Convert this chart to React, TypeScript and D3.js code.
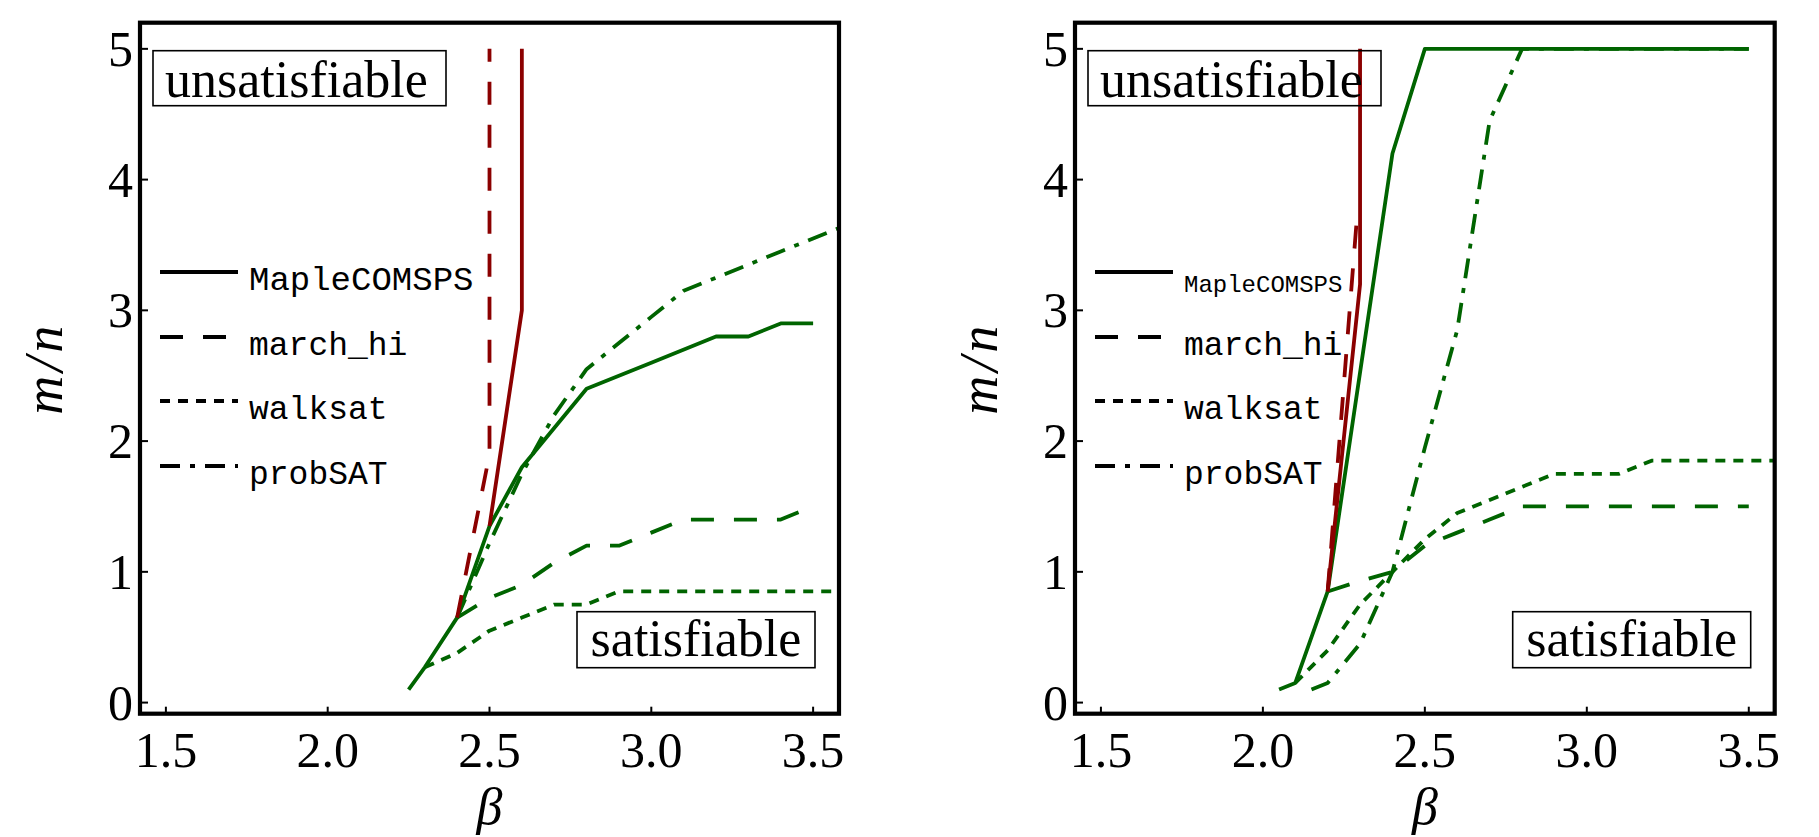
import React from "react";
import * as d3 from "d3";

// ---- data (beta on x, m/n on y) ----
const xTicks = [1.5, 2.0, 2.5, 3.0, 3.5];
const xTickLabels = ["1.5", "2.0", "2.5", "3.0", "3.5"];
const yTicks = [0, 1, 2, 3, 4, 5];
const yTickLabels = ["0", "1", "2", "3", "4", "5"];

const legendNames = ["MapleCOMSPS", "march_hi", "walksat", "probSAT"];

// left panel
const lMapleSatB = [2.25, 2.3, 2.4, 2.5, 2.6, 2.8, 3.0, 3.2, 3.3, 3.4, 3.5];
const lMapleSatR = [0.1, 0.27, 0.65, 1.35, 1.8, 2.4, 2.6, 2.8, 2.8, 2.9, 2.9];
const lMapleUnsatB = [2.5, 2.6, 2.6];
const lMapleUnsatR = [1.35, 3.0, 5.0];
const lMarchSatB = [2.4, 2.5, 2.6, 2.7, 2.8, 2.9, 3.0, 3.1, 3.2, 3.3, 3.4, 3.5];
const lMarchSatR = [0.65, 0.8, 0.9, 1.07, 1.2, 1.2, 1.3, 1.4, 1.4, 1.4, 1.4, 1.5];
const lMarchUnsatB = [2.4, 2.5, 2.5];
const lMarchUnsatR = [0.65, 1.9, 5.0];
const lWalkSatB = [2.3, 2.4, 2.5, 2.6, 2.7, 2.8, 2.9, 3.0, 3.1, 3.2, 3.3, 3.4, 3.5, 3.6];
const lWalkSatR = [0.27, 0.38, 0.55, 0.65, 0.75, 0.75, 0.85, 0.85, 0.85, 0.85, 0.85, 0.85, 0.85, 0.85];
const lProbSatB = [2.4, 2.5, 2.6, 2.7, 2.8, 2.9, 3.0, 3.1, 3.2, 3.3, 3.4, 3.5, 3.6];
const lProbSatR = [0.65, 1.22, 1.75, 2.2, 2.55, 2.75, 2.95, 3.15, 3.25, 3.35, 3.45, 3.55, 3.65];

// right panel
const rMapleSatB = [2.05, 2.1, 2.2, 2.4, 2.5, 2.6, 2.8, 3.0, 3.2, 3.4, 3.5];
const rMapleSatR = [0.1, 0.15, 0.85, 4.2, 5.0, 5.0, 5.0, 5.0, 5.0, 5.0, 5.0];
const rMapleUnsatB = [2.2, 2.3, 2.3];
const rMapleUnsatR = [0.85, 3.2, 5.0];
const rMarchSatB = [2.2, 2.3, 2.4, 2.5, 2.6, 2.7, 2.8, 2.9, 3.0, 3.1, 3.2, 3.3, 3.4, 3.5];
const rMarchSatR = [0.85, 0.93, 1.0, 1.2, 1.3, 1.4, 1.5, 1.5, 1.5, 1.5, 1.5, 1.5, 1.5, 1.5];
const rMarchUnsatB = [2.2, 2.29];
const rMarchUnsatR = [0.85, 3.7];
const rWalkSatB = [2.1, 2.2, 2.3, 2.4, 2.5, 2.6, 2.7, 2.8, 2.9, 3.0, 3.1, 3.2, 3.3, 3.4, 3.5, 3.6];
const rWalkSatR = [0.15, 0.4, 0.75, 1.0, 1.25, 1.45, 1.55, 1.65, 1.75, 1.75, 1.75, 1.85, 1.85, 1.85, 1.85, 1.85];
const rProbSatB = [2.15, 2.2, 2.3, 2.4, 2.5, 2.6, 2.7, 2.8, 2.9, 3.0, 3.2, 3.4, 3.5];
const rProbSatR = [0.1, 0.15, 0.45, 1.0, 1.95, 2.85, 4.45, 5.0, 5.0, 5.0, 5.0, 5.0, 5.0];

const GREEN = "#006400";
const RED = "#8b0000";
const DASHES = ["none", "23,20", "10,8", "20,10,5,10"];

const zip = (b: number[], r: number[]) => b.map((v, i) => [v, r[i]] as [number, number]);

const panels = [
  {
    id: "l",
    x0: 140,
    x1: 839,
    mapleFont: 34,
    series: [
      { pts: zip(lMapleSatB, lMapleSatR), color: GREEN, dash: 0 },
      { pts: zip(lMarchSatB, lMarchSatR), color: GREEN, dash: 1 },
      { pts: zip(lWalkSatB, lWalkSatR), color: GREEN, dash: 2 },
      { pts: zip(lProbSatB, lProbSatR), color: GREEN, dash: 3 },
      { pts: zip(lMarchUnsatB, lMarchUnsatR), color: RED, dash: 1 },
      { pts: zip(lMapleUnsatB, lMapleUnsatR), color: RED, dash: 0 },
    ],
  },
  {
    id: "r",
    x0: 1075,
    x1: 1774.7,
    mapleFont: 24,
    series: [
      { pts: zip(rMapleSatB, rMapleSatR), color: GREEN, dash: 0 },
      { pts: zip(rMarchSatB, rMarchSatR), color: GREEN, dash: 1 },
      { pts: zip(rWalkSatB, rWalkSatR), color: GREEN, dash: 2 },
      { pts: zip(rProbSatB, rProbSatR), color: GREEN, dash: 3 },
      { pts: zip(rMarchUnsatB, rMarchUnsatR), color: RED, dash: 1 },
      { pts: zip(rMapleUnsatB, rMapleUnsatR), color: RED, dash: 0 },
    ],
  },
];

const TOP = 22.7;
const BOTTOM = 713.7;
const legendY = [272, 337, 401, 466];

function Panel({ p }: { p: (typeof panels)[number] }) {
  const x = d3.scaleLinear().domain([1.42, 3.58]).range([p.x0, p.x1]);
  const y = d3.scaleLinear().domain([-0.085, 5.2]).range([BOTTOM, TOP]);
  const line = d3
    .line<[number, number]>()
    .x((d) => x(d[0]))
    .y((d) => y(d[1]));
  const serif = "'Liberation Serif', 'DejaVu Serif', serif";
  const mono = "'Liberation Mono', 'DejaVu Sans Mono', monospace";
  const midX = (p.x0 + p.x1) / 2;

  return (
    <g>
      <defs>
        <clipPath id={`clip-${p.id}`}>
          <rect x={p.x0} y={TOP} width={p.x1 - p.x0} height={BOTTOM - TOP} />
        </clipPath>
      </defs>

      <g clipPath={`url(#clip-${p.id})`}>
        {p.series.map((s, i) => (
          <path
            key={i}
            d={line(s.pts) || ""}
            fill="none"
            stroke={s.color}
            strokeWidth={3.8}
            strokeDasharray={DASHES[s.dash]}
            strokeLinejoin="round"
          />
        ))}
      </g>

      {/* annotation boxes */}
      <rect x={p.x0 + 13} y={TOP + 28} width={293} height={55} fill="none" stroke="#000" strokeWidth={1.6} />
      <text x={p.x0 + 25} y={TOP + 74} fontFamily={serif} fontSize={52} fill="#000">
        unsatisfiable
      </text>
      <rect x={p.x1 - 262} y={BOTTOM - 102} width={238} height={56} fill="none" stroke="#000" strokeWidth={1.6} />
      <text x={p.x1 - 143} y={BOTTOM - 58} fontFamily={serif} fontSize={52} textAnchor="middle" fill="#000">
        satisfiable
      </text>

      {/* legend */}
      {legendNames.map((name, i) => (
        <g key={name}>
          <line
            x1={p.x0 + 20}
            x2={p.x0 + 98}
            y1={legendY[i]}
            y2={legendY[i]}
            stroke="#000"
            strokeWidth={3.8}
            strokeDasharray={DASHES[i]}
          />
          <text
            x={p.x0 + 109}
            y={legendY[i] + (i === 0 && p.mapleFont < 30 ? 20 : 18)}
            fontFamily={mono}
            fontSize={i === 0 ? p.mapleFont : 33}
            fill="#000"
          >
            {name}
          </text>
        </g>
      ))}

      {/* ticks */}
      {xTicks.map((t, i) => (
        <g key={t}>
          <line x1={x(t)} x2={x(t)} y1={BOTTOM} y2={BOTTOM - 7} stroke="#000" strokeWidth={2} />
          <text x={x(t)} y={767} fontFamily={serif} fontSize={50} textAnchor="middle" fill="#000">
            {xTickLabels[i]}
          </text>
        </g>
      ))}
      {yTicks.map((t, i) => (
        <g key={t}>
          <line x1={p.x0} x2={p.x0 + 8} y1={y(t)} y2={y(t)} stroke="#000" strokeWidth={2} />
          <text x={p.x0 - 7} y={y(t) + 17} fontFamily={serif} fontSize={50} textAnchor="end" fill="#000">
            {yTickLabels[i]}
          </text>
        </g>
      ))}

      {/* frame */}
      <rect x={p.x0} y={TOP} width={p.x1 - p.x0} height={BOTTOM - TOP} fill="none" stroke="#000" strokeWidth={4.2} />

      {/* axis labels */}
      <text x={midX} y={824} fontFamily={serif} fontStyle="italic" fontSize={52} textAnchor="middle" fill="#000">
        β
      </text>
      <text
        transform={`translate(${p.x0 - 78},${(TOP + BOTTOM) / 2}) rotate(-90)`}
        fontFamily={serif}
        fontStyle="italic"
        fontSize={54}
        letterSpacing={4}
        textAnchor="middle"
        fill="#000"
      >
        m/n
      </text>
    </g>
  );
}

export default function App() {
  return (
    <svg
      width={1819}
      height={837}
      style={{ position: "absolute", left: 0, top: 0, background: "#fff" }}
    >
      <rect width={1819} height={837} fill="#fff" />
      {panels.map((p) => (
        <Panel key={p.id} p={p} />
      ))}
    </svg>
  );
}
